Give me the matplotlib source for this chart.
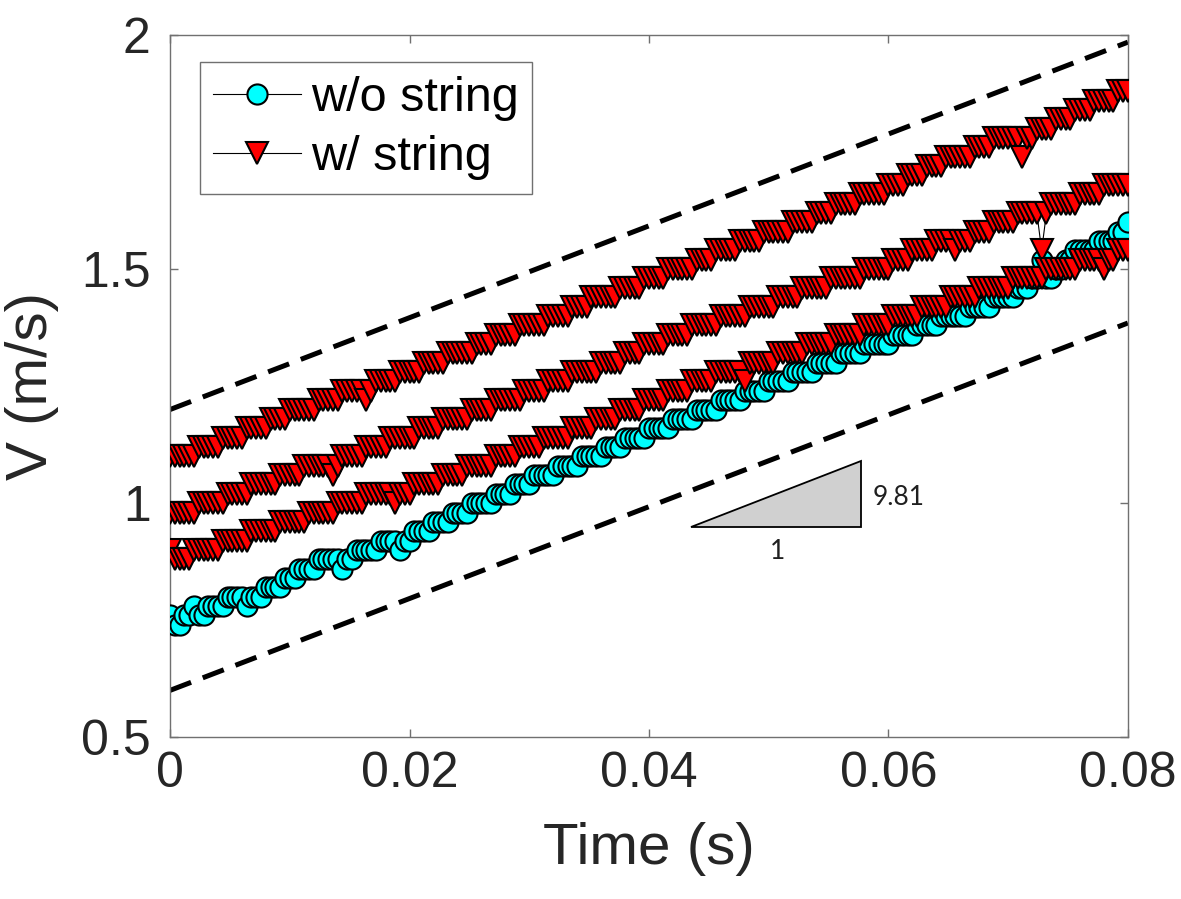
import numpy as np
import matplotlib.pyplot as plt
from matplotlib.patches import Polygon

plt.rcParams['font.family'] = ['Liberation Sans', 'DejaVu Sans']

## frame interval of the high speed camera (s)
dt = 0.0004

## velocity runs as (velocity m/s, number of frames)
## w/o string
v_free = [(0.76, 1), (0.74, 2), (0.76, 2), (0.78, 1), (0.76, 2), (0.78, 4), (0.80, 4),
          (0.78, 1), (0.80, 3), (0.82, 4), (0.84, 3), (0.86, 4), (0.88, 5), (0.86, 1),
          (0.88, 2), (0.90, 5), (0.92, 4), (0.90, 1), (0.92, 2), (0.94, 4), (0.96, 4),
          (0.98, 4), (1.00, 5), (1.02, 4), (1.04, 4), (1.06, 5), (1.08, 5), (1.10, 5),
          (1.12, 4), (1.14, 5), (1.16, 5), (1.18, 5), (1.20, 5), (1.22, 5), (1.24, 5),
          (1.26, 5), (1.28, 5), (1.30, 5), (1.32, 5), (1.34, 6), (1.36, 5), (1.38, 5),
          (1.40, 6), (1.42, 5), (1.44, 5), (1.46, 3), (1.48, 2), (1.52, 1), (1.48, 2),
          (1.50, 2), (1.52, 2), (1.54, 5), (1.56, 4), (1.58, 2), (1.60, 1)]

## w/ string, three drops
v_str1 = [(1.10, 6), (1.12, 5), (1.14, 5), (1.16, 5), (1.18, 4), (1.20, 6), (1.22, 5),
          (1.24, 5), (1.22, 1), (1.24, 1), (1.26, 5), (1.28, 5), (1.30, 5), (1.32, 6),
          (1.34, 4), (1.36, 5), (1.38, 6), (1.40, 5), (1.42, 4), (1.44, 6), (1.46, 5),
          (1.48, 5), (1.50, 6), (1.52, 4), (1.54, 5), (1.56, 5), (1.58, 6), (1.60, 5),
          (1.62, 4), (1.64, 5), (1.66, 6), (1.68, 4), (1.70, 4), (1.72, 4), (1.74, 6),
          (1.76, 4), (1.78, 6), (1.74, 1), (1.78, 2), (1.80, 4), (1.82, 4), (1.84, 4),
          (1.86, 5), (1.88, 3)]

v_str2 = [(0.98, 6), (1.00, 6), (1.02, 5), (1.04, 6), (1.06, 5), (1.08, 6), (1.06, 1),
          (1.08, 1), (1.10, 5), (1.12, 5), (1.14, 6), (1.16, 5), (1.18, 6), (1.20, 5),
          (1.22, 6), (1.24, 5), (1.26, 5), (1.28, 6), (1.30, 5), (1.32, 4), (1.34, 5),
          (1.36, 5), (1.38, 6), (1.40, 6), (1.42, 6), (1.44, 5), (1.46, 6), (1.48, 7),
          (1.50, 6), (1.52, 4), (1.54, 5), (1.56, 4), (1.54, 1), (1.56, 3), (1.58, 4),
          (1.60, 5), (1.62, 5), (1.54, 1), (1.62, 1), (1.64, 6), (1.66, 5), (1.68, 6)]

v_str3 = [(0.90, 1), (0.88, 4), (0.90, 6), (0.92, 6), (0.94, 6), (0.96, 6), (0.98, 6),
          (1.00, 6), (1.02, 6), (1.00, 1), (1.02, 3), (1.04, 6), (1.06, 5), (1.08, 6),
          (1.10, 5), (1.12, 5), (1.14, 6), (1.16, 5), (1.18, 5), (1.20, 5), (1.22, 5),
          (1.24, 5), (1.26, 5), (1.28, 6), (1.26, 1), (1.30, 6), (1.32, 6), (1.34, 6),
          (1.36, 6), (1.38, 6), (1.40, 6), (1.42, 6), (1.44, 6), (1.46, 7), (1.48, 7),
          (1.50, 7), (1.52, 5), (1.50, 1), (1.52, 2), (1.54, 3)]

## free fall guide lines, slope g
g = 9.81
guide_b = [1.2, 0.6]
t_guide = np.array([0, 0.08])


def expand(runs):
    lev = np.array([r[0] for r in runs])
    cnt = np.array([r[1] for r in runs])
    v = np.repeat(lev, cnt)
    t = np.arange(len(v)) * dt
    return t, v


fig = plt.figure(figsize=(11.81, 8.99), dpi=100, facecolor='#FFFFFF')
ax = fig.add_axes([0.144, 0.180, 0.811, 0.781])

for b in guide_b:
    ax.plot(t_guide, b + g * t_guide, '--', color='k', lw=3.6, dashes=(4.5, 2.5), zorder=2)

t, v = expand(v_free)
ax.plot(t, v, '-o', color='k', lw=0.8, ms=14.5, mfc='#00FFFF', mec='k', mew=1.5,
        label='w/o string', zorder=3)
for i, runs in enumerate([v_str1, v_str2, v_str3]):
    t, v = expand(runs)
    ax.plot(t, v, '-v', color='k', lw=0.8, ms=16.5, mfc='#FF0000', mec='k', mew=1.5,
            label='w/ string' if i == 0 else None, zorder=4)

## slope triangle
tri = Polygon([(0.0435, 0.9485), (0.0577, 0.9485), (0.0577, 1.09)], closed=True,
              facecolor='#D0D0D0', edgecolor='k', lw=1.3, zorder=2)
ax.add_patch(tri)
ax.text(0.0587, 1.011, '9.81', fontsize=19, family=['Lato', 'DejaVu Sans'],
        ha='left', va='center', color='#202020')
ax.text(0.0507, 0.897, '1', fontsize=19, family=['Lato', 'DejaVu Sans'],
        ha='center', va='center', color='#202020')

ax.set_xlim(0, 0.08)
ax.set_ylim(0.5, 2)
ax.set_xticks([0, 0.02, 0.04, 0.06, 0.08])
ax.set_xticklabels(['0', '0.02', '0.04', '0.06', '0.08'])
ax.set_yticks([0.5, 1, 1.5, 2])
ax.set_yticklabels(['0.5', '1', '1.5', '2'])
ax.tick_params(direction='in', top=True, right=True, length=6, width=1,
               color='#707070', labelsize=36, labelcolor='#262626')
ax.tick_params(axis='y', pad=14)
ax.tick_params(axis='x', pad=10)
for s in ax.spines.values():
    s.set_color('#707070')
    s.set_linewidth(1.0)

ax.set_xlabel('Time (s)', fontsize=42, color='#262626', labelpad=18)
ax.set_ylabel('V (m/s)', fontsize=42, color='#262626', labelpad=16)

leg = ax.legend(loc='upper left', bbox_to_anchor=(0.031, 0.9615), fontsize=35,
                handlelength=1.8, handletextpad=0.2, borderpad=0.28, labelspacing=0.3,
                borderaxespad=0, fancybox=False, framealpha=1)
leg.get_frame().set_edgecolor('#707070')
leg.get_frame().set_linewidth(1.0)

fig.savefig('out.png', dpi=100)
